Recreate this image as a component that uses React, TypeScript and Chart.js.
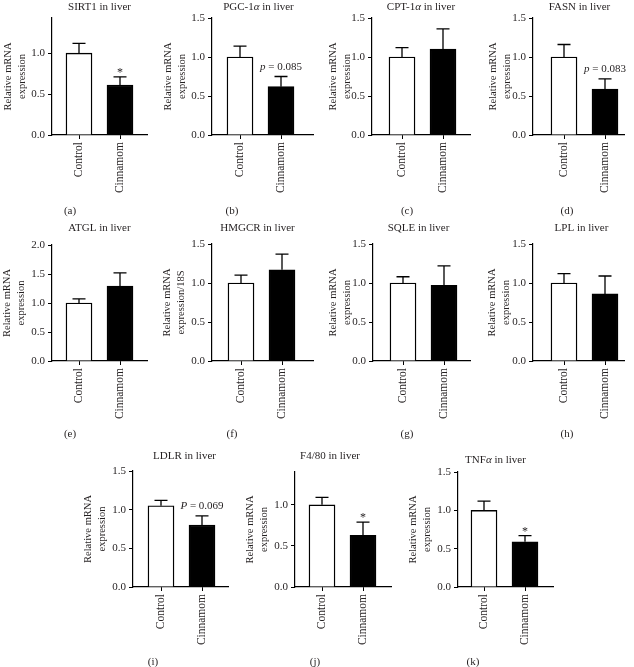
import React, { useEffect, useRef } from 'react';
import { Chart, registerables } from 'chart.js';

Chart.register(...registerables);

const FONT = '"Liberation Serif", "Times New Roman", serif';
const TEXT = '#231f20';
Chart.defaults.font.family = FONT;
Chart.defaults.font.size = 11;
Chart.defaults.color = TEXT;

// ---------------- data ----------------
const categories = ['Control', 'Cinnamom'];
const panelTitles = [
  'SIRT1 in liver', 'PGC-1α in liver', 'CPT-1α in liver', 'FASN in liver',
  'ATGL in liver', 'HMGCR in liver', 'SQLE in liver', 'LPL in liver',
  'LDLR in liver', 'F4/80 in liver', 'TNFα in liver',
];
const panelLetters = ['(a)', '(b)', '(c)', '(d)', '(e)', '(f)', '(g)', '(h)', '(i)', '(j)', '(k)'];
const controlMeans = [1.0, 1.0, 1.0, 1.0, 1.0, 1.0, 1.0, 1.0, 1.05, 1.0, 1.0];
const controlErrors = [0.12, 0.14, 0.12, 0.16, 0.07, 0.10, 0.08, 0.12, 0.07, 0.09, 0.12];
const cinnamomMeans = [0.61, 0.62, 1.10, 0.59, 1.29, 1.17, 0.97, 0.86, 0.80, 0.63, 0.59];
const cinnamomErrors = [0.10, 0.13, 0.26, 0.13, 0.23, 0.20, 0.25, 0.23, 0.12, 0.16, 0.08];
const yAxisMax = [1.43, 1.5, 1.5, 1.5, 2.0, 1.5, 1.5, 1.5, 1.5, 1.4, 1.5];
const yTickStep = 0.5;
const yAxisTitles = [
  ['Relative mRNA', 'expression'], ['Relative mRNA', 'expression'], ['Relative mRNA', 'expression'],
  ['Relative mRNA', 'expression'], ['Relative mRNA', 'expression'], ['Relative mRNA', 'expression/18S'],
  ['Relative mRNA', 'expression'], ['Relative mRNA', 'expression'], ['Relative mRNA', 'expression'],
  ['Relative mRNA', 'expression'], ['Relative mRNA', 'expression'],
];
const annotations = ['*', 'p = 0.085', '', 'p = 0.083', '', '', '', '', 'P = 0.069', '*', '*'];

// ---------------- layout (page pixels) ----------------
const Y_AXIS_WIDTH = 52;
const X_AXIS_HEIGHT = 85;
const BAR_WIDTH = 26;
const BAR_SPACING = 41;
const panelLayout = [
  { L: 52, R: 147, T: 18, B: 135, off: 14, gap: 44, tdx: 0, tY: 10, cX: 70, cY: 214 },
  { L: 212, R: 313, T: 18, B: 135, off: 15, gap: 44, tdx: -4, tY: 10, cX: 232, cY: 214 },
  { L: 372, R: 470, T: 18, B: 135, off: 17, gap: 39, tdx: 0, tY: 10, cX: 407, cY: 214 },
  { L: 533, R: 624, T: 18, B: 135, off: 18, gap: 40, tdx: 1, tY: 10, cX: 567, cY: 214 },
  { L: 52, R: 147, T: 245, B: 361, off: 14, gap: 45, tdx: 0, tY: 231, cX: 70, cY: 437 },
  { L: 212, R: 313, T: 244, B: 361, off: 16, gap: 45, tdx: -5, tY: 231, cX: 232, cY: 437 },
  { L: 373, R: 470, T: 244, B: 361, off: 17, gap: 40, tdx: -3, tY: 231, cX: 407, cY: 437 },
  { L: 533, R: 624, T: 244, B: 361, off: 18, gap: 41, tdx: 3, tY: 231, cX: 567, cY: 437 },
  { L: 133, R: 228, T: 471, B: 587, off: 15, gap: 45, tdx: 4, tY: 459, cX: 153, cY: 665 },
  { L: 295, R: 391, T: 472, B: 587, off: 14, gap: 45, tdx: -13, tY: 459, cX: 315, cY: 665 },
  { L: 458, R: 553, T: 472, B: 587, off: 13, gap: 46, tdx: -10, tY: 463, cX: 473, cY: 665 },
];

function drawMixed(ctx: CanvasRenderingContext2D, text: string, cx: number, y: number, italicFirst: boolean) {
  const segs: { t: string; it: boolean }[] = [];
  for (let k = 0; k < text.length; k++) {
    const ch = text[k];
    const it = ch === 'α' || (italicFirst && k === 0);
    if (segs.length && segs[segs.length - 1].it === it) segs[segs.length - 1].t += ch;
    else segs.push({ t: ch, it });
  }
  const fontOf = (it: boolean) => `${it ? 'italic ' : ''}11px ${FONT}`;
  let total = 0;
  const widths = segs.map((s) => {
    ctx.font = fontOf(s.it);
    const w = ctx.measureText(s.t).width;
    total += w;
    return w;
  });
  let x = cx - total / 2;
  ctx.textAlign = 'left';
  segs.forEach((s, k) => {
    ctx.font = fontOf(s.it);
    ctx.fillText(s.t, x, y);
    x += widths[k];
  });
}

function Panel({ i }: { i: number }) {
  const ref = useRef<HTMLCanvasElement>(null);
  const g = panelLayout[i];
  const canvasLeft = g.L - Y_AXIS_WIDTH;
  const canvasTop = Math.max(0, g.T - 26);
  const padTop = g.T - canvasTop;
  const width = g.R + 6 - canvasLeft;
  const height = g.B + X_AXIS_HEIGHT - canvasTop;

  useEffect(() => {
    if (!ref.current) return;
    const means = [controlMeans[i], cinnamomMeans[i]];
    const errs = [controlErrors[i], cinnamomErrors[i]];
    const xMin = -(g.off + BAR_WIDTH / 2) / BAR_SPACING;
    const xMax = xMin + (g.R - g.L) / BAR_SPACING;

    const overlay = {
      id: 'overlay' + i,
      afterDatasetsDraw(chart: any) {
        const ctx: CanvasRenderingContext2D = chart.ctx;
        const y = chart.scales.y;
        const meta = chart.getDatasetMeta(0);
        ctx.save();
        ctx.strokeStyle = '#000';
        ctx.lineWidth = 1.3;
        meta.data.forEach((bar: any, k: number) => {
          const cx = bar.x;
          const yMean = y.getPixelForValue(means[k]);
          const yCap = y.getPixelForValue(means[k] + errs[k]);
          ctx.beginPath();
          ctx.moveTo(cx, yMean);
          ctx.lineTo(cx, yCap);
          ctx.moveTo(cx - 6.5, yCap);
          ctx.lineTo(cx + 6.5, yCap);
          ctx.stroke();
        });
        ctx.fillStyle = TEXT;
        ctx.textBaseline = 'alphabetic';
        const note = annotations[i];
        if (note) {
          const bar = meta.data[1];
          const yCap = y.getPixelForValue(means[1] + errs[1]);
          if (note === '*') {
            ctx.font = `12px ${FONT}`;
            ctx.textAlign = 'center';
            ctx.fillText('*', bar.x, yCap - 1);
          } else {
            drawMixed(ctx, note, bar.x, yCap - 7, true);
          }
        }
        const area = chart.chartArea;
        drawMixed(ctx, panelTitles[i], (area.left + area.right) / 2 + g.tdx, g.tY - canvasTop, false);
        ctx.font = `11px ${FONT}`;
        ctx.textAlign = 'center';
        ctx.fillText(panelLetters[i], g.cX - canvasLeft, g.cY - canvasTop);
        ctx.restore();
      },
    };

    const axisGrid = {
      display: true,
      drawOnChartArea: false,
      drawTicks: true,
      tickLength: 4,
      color: '#000',
      lineWidth: 1,
      offset: false,
    };
    const axisBorder = { display: true, color: '#000', width: 1.2 };

    const chart = new Chart(ref.current, {
      type: 'bar',
      data: {
        datasets: [
          {
            data: means.map((m, k) => ({ x: k, y: m })),
            backgroundColor: ['#ffffff', '#000000'],
            borderColor: '#000000',
            borderWidth: 1.4,
            barThickness: BAR_WIDTH,
            borderSkipped: 'start',
          } as any,
        ],
      },
      options: {
        responsive: false,
        animation: false,
        devicePixelRatio: 1,
        layout: { padding: { left: 0, right: 6, top: padTop, bottom: 0 }, autoPadding: false } as any,
        plugins: { legend: { display: false }, tooltip: { enabled: false }, title: { display: false } },
        scales: {
          x: {
            type: 'linear',
            min: xMin,
            max: xMax,
            offset: false,
            afterBuildTicks: (s: any) => {
              s.ticks = categories.map((_, k) => ({ value: k }));
            },
            afterFit: (s: any) => {
              s.height = X_AXIS_HEIGHT;
            },
            ticks: {
              callback: (_v: any, idx: number) => categories[idx] ?? '',
              minRotation: 90,
              maxRotation: 90,
              autoSkip: false,
              padding: 3,
              font: { size: 11.5 },
              color: TEXT,
            },
            grid: axisGrid,
            border: axisBorder,
          } as any,
          y: {
            type: 'linear',
            min: 0,
            max: yAxisMax[i],
            afterBuildTicks: (s: any) => {
              const t: { value: number }[] = [];
              for (let v = 0; v <= yAxisMax[i] + 1e-9; v += yTickStep) t.push({ value: Math.round(v * 100) / 100 });
              s.ticks = t;
            },
            afterFit: (s: any) => {
              s.width = Y_AXIS_WIDTH;
            },
            ticks: {
              callback: (v: any) => Number(v).toFixed(1),
              padding: 3,
              font: { size: 11 },
              color: TEXT,
            },
            grid: axisGrid,
            border: axisBorder,
            title: {
              display: true,
              text: yAxisTitles[i],
              font: { size: 10.5, lineHeight: '14px' },
              padding: { top: Math.max(0, Y_AXIS_WIDTH - g.gap - 7), bottom: 0 },
              color: TEXT,
            },
          } as any,
        },
      },
      plugins: [overlay],
    });
    return () => chart.destroy();
  }, [i]);

  return (
    <canvas
      ref={ref}
      width={width}
      height={height}
      style={{ position: 'absolute', left: canvasLeft, top: canvasTop, width, height }}
    />
  );
}

export default function App() {
  return (
    <div
      style={{
        position: 'absolute',
        left: 0,
        top: 0,
        width: 634,
        height: 667,
        background: '#ffffff',
        overflow: 'hidden',
      }}
    >
      {panelTitles.map((_, i) => (
        <Panel key={i} i={i} />
      ))}
    </div>
  );
}
